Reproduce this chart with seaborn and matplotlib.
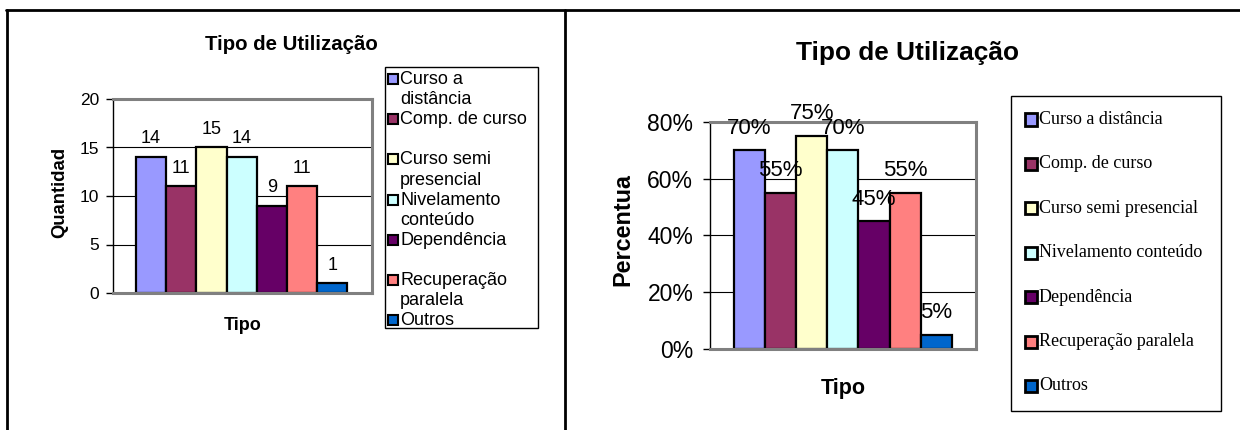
import matplotlib
matplotlib.use("Agg")
import matplotlib.pyplot as plt
import matplotlib.ticker as mticker
from matplotlib.patches import Rectangle
from matplotlib.lines import Line2D
import seaborn as sns
import pandas as pd

sns.set_theme(style="white")
plt.rcParams['font.family'] = ['Liberation Sans', 'DejaVu Sans']
plt.rcParams['text.color'] = 'black'

# data
categorias = ["Curso a distância", "Comp. de curso", "Curso semi presencial",
              "Nivelamento conteúdo", "Dependência", "Recuperação paralela", "Outros"]
quantidade = [14, 11, 15, 14, 9, 11, 1]
percentual = [0.70, 0.55, 0.75, 0.70, 0.45, 0.55, 0.05]
rotulos_pct = ["70%", "55%", "75%", "70%", "45%", "55%", "5%"]
legenda_esq = ["Curso a\ndistância", "Comp. de curso", "Curso semi\npresencial",
               "Nivelamento\nconteúdo", "Dependência", "Recuperação\nparalela", "Outros"]
cores = ["#9999FF", "#993366", "#FFFFCC", "#CCFFFF", "#660066", "#FF8080", "#0066CC"]

df = pd.DataFrame({"Tipo": categorias, "Quantidade": quantidade, "Percentual": percentual})

W, H = 1240, 430
fig = plt.figure(figsize=(W / 100, H / 100), dpi=100)


def fx(px):
    return px / W


def fy(py):
    return 1 - py / H


def style_axes(ax):
    ax.set_facecolor("white")
    for s in ["top", "right", "bottom"]:
        ax.spines[s].set_color("#808080")
        ax.spines[s].set_linewidth(2.2)
        ax.spines[s].set_visible(True)
    ax.spines["left"].set_color("black")
    ax.spines["left"].set_linewidth(1)
    ax.spines["left"].set_visible(True)
    ax.grid(axis="y", color="black", linewidth=0.8)
    ax.set_axisbelow(True)
    ax.set_xticks([])
    ax.tick_params(axis="y", direction="out", length=5, width=1, color="black",
                   left=True)


# ---- left chart: Quantidade ----
ax1 = fig.add_axes([fx(113), fy(293), fx(372 - 113), (293 - 99) / H])
sns.barplot(data=df, x="Tipo", y="Quantidade", hue="Tipo", palette=cores,
            saturation=1, width=1, edgecolor="black", linewidth=1.6,
            legend=False, ax=ax1)
style_axes(ax1)
ax1.set_xlim(-1.26, 7.32)
ax1.set_ylim(0, 20)
ax1.set_yticks([0, 5, 10, 15, 20])
ax1.tick_params(axis="y", labelsize=12.5, labelcolor="black", pad=5)
for c in ax1.containers:
    ax1.bar_label(c, fmt="%d", padding=7, fontsize=13, color="black")
ax1.set_ylabel("Quantidad", fontsize=13.3, fontweight="bold", color="black")
ax1.yaxis.set_label_coords(-0.174, 0.52)
ax1.set_xlabel("Tipo", fontsize=13, fontweight="bold", color="black")
ax1.xaxis.label.set_va("center")
ax1.xaxis.set_label_coords(0.5, -0.165)
fig.text(fx(291), fy(45), "Tipo de Utilização", ha="center", va="center",
         fontsize=14.7, fontweight="bold", color="black")

# left legend (manual, entries top-aligned to the first line)
fig.add_artist(Rectangle((fx(385), fy(328)), fx(538 - 385), (328 - 67) / H,
                         transform=fig.transFigure, fill=False, edgecolor="black", lw=1))
for i, (lab, cor) in enumerate(zip(legenda_esq, cores)):
    y0 = 79 + i * 40.2
    fig.add_artist(Rectangle((fx(388), fy(y0 + 5)), fx(10), 10 / H,
                             transform=fig.transFigure, facecolor=cor,
                             edgecolor="black", lw=1.5))
    fig.text(fx(400), fy(y0 - 8), lab, ha="left", va="top", fontsize=13,
             linespacing=1.25, color="black")

# ---- right chart: Percentual ----
ax2 = fig.add_axes([fx(710), fy(349), fx(976 - 710), (349 - 122) / H])
sns.barplot(data=df, x="Tipo", y="Percentual", hue="Tipo", palette=cores,
            saturation=1, width=1, edgecolor="black", linewidth=1.6,
            legend=False, ax=ax2)
style_axes(ax2)
ax2.set_xlim(-1.27, 7.28)
ax2.set_ylim(0, 0.8)
ax2.set_yticks([0, 0.2, 0.4, 0.6, 0.8])
ax2.yaxis.set_major_formatter(mticker.PercentFormatter(1.0, decimals=0))
ax2.tick_params(axis="y", labelsize=16.5, labelcolor="black", pad=7)
for c, lab in zip(ax2.containers, rotulos_pct):
    ax2.bar_label(c, labels=[lab], padding=8.5, fontsize=16, color="black")
ax2.set_ylabel("Percentua", fontsize=16.8, fontweight="bold", color="black")
ax2.yaxis.set_label_coords(-0.286, 0.524)
ax2.set_xlabel("Tipo", fontsize=15.5, fontweight="bold", color="black")
ax2.xaxis.label.set_va("center")
ax2.xaxis.set_label_coords(0.5, -0.172)
fig.text(fx(908), fy(53), "Tipo de Utilização", ha="center", va="center",
         fontsize=18.9, fontweight="bold", color="black")

# right legend (manual)
fig.add_artist(Rectangle((fx(1011), fy(411)), fx(1221 - 1011), (411 - 96) / H,
                         transform=fig.transFigure, fill=False, edgecolor="black", lw=1))
for i, (lab, cor) in enumerate(zip(categorias, cores)):
    y0 = 119.5 + i * 44.4
    fig.add_artist(Rectangle((fx(1025), fy(y0 + 6)), fx(12), 12 / H,
                             transform=fig.transFigure, facecolor=cor,
                             edgecolor="black", lw=2))
    fig.text(fx(1039), fy(y0), lab, ha="left", va="center", fontsize=13,
             family=["Liberation Serif", "DejaVu Serif"], color="black")

# outer table frame
fig.add_artist(Line2D([fx(6), 1], [fy(10), fy(10)], transform=fig.transFigure,
                      color="black", lw=2))
fig.add_artist(Line2D([fx(7), fx(7)], [fy(10), 0], transform=fig.transFigure,
                      color="black", lw=2))
fig.add_artist(Line2D([fx(565), fx(565)], [fy(10), 0], transform=fig.transFigure,
                      color="black", lw=2))

fig.savefig("out.png", dpi=100, facecolor="white")
